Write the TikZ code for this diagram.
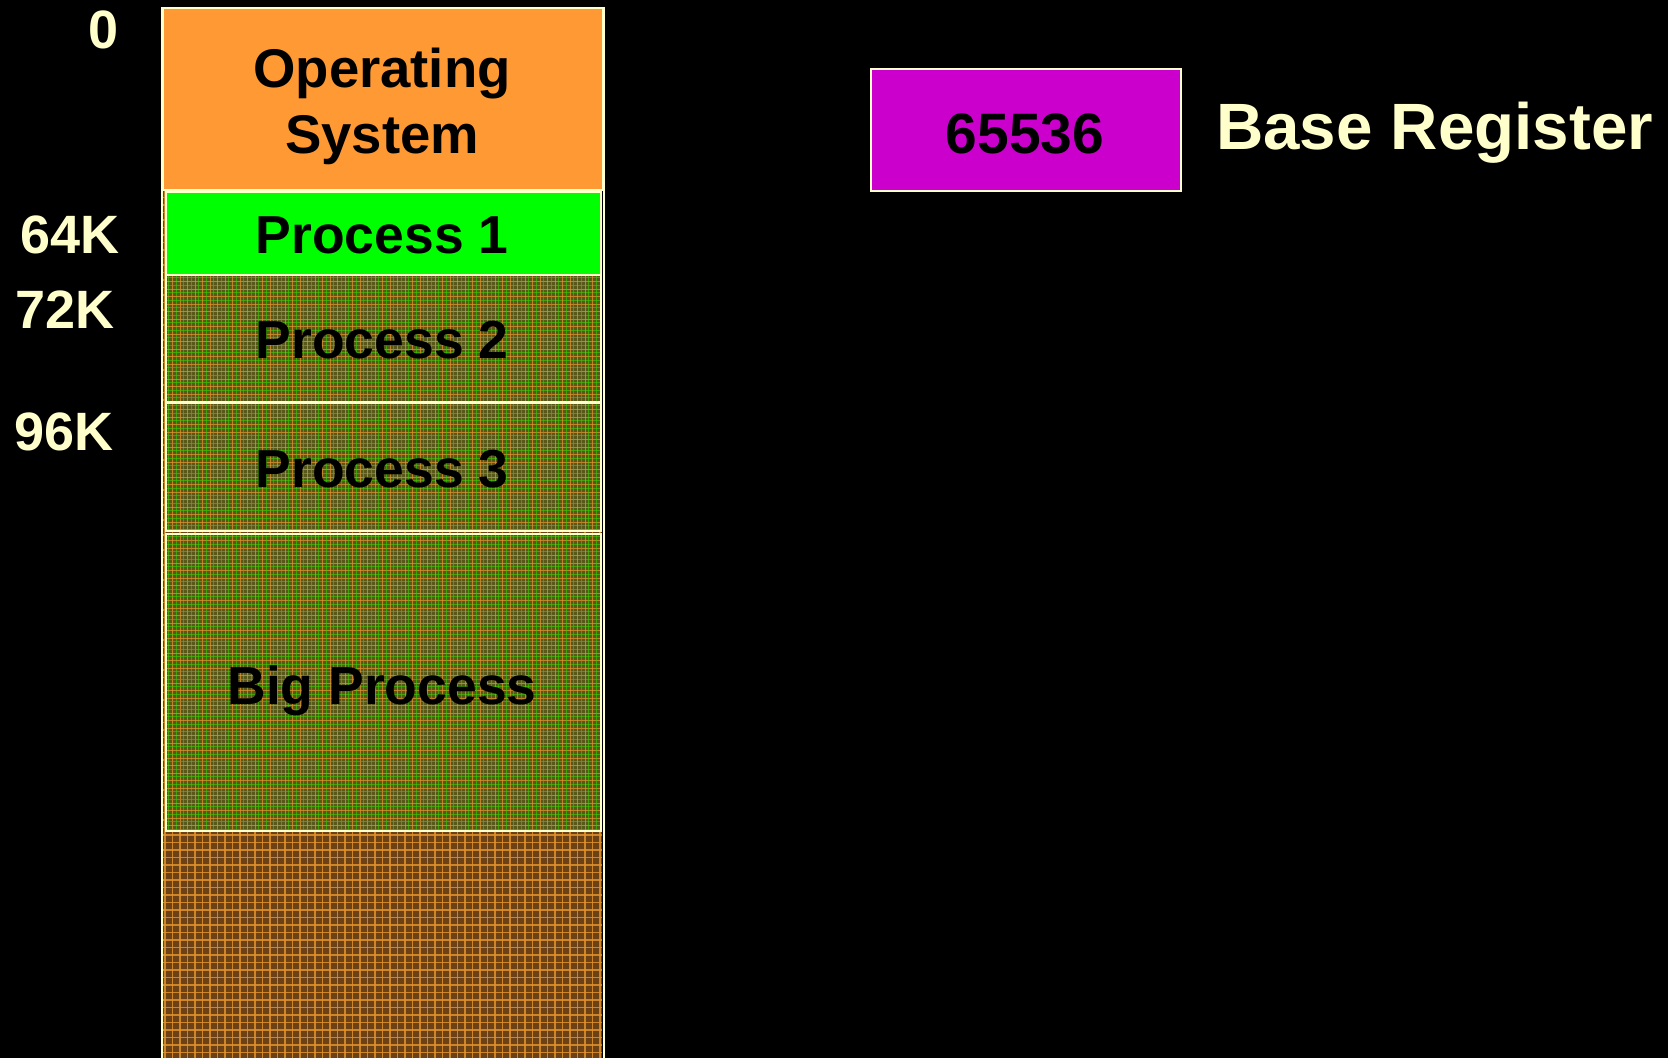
\documentclass[tikz,border=0pt]{standalone}
\usepackage{fontspec}
\setmainfont{Liberation Sans}
\definecolor{memline}{HTML}{FFFFCC}
\definecolor{osorange}{HTML}{FF9933}
\definecolor{procgreen}{HTML}{00FF00}
\definecolor{regpurple}{HTML}{CC00CC}
\definecolor{olivebase}{HTML}{585818}
\definecolor{brownbase}{HTML}{6C4116}
\definecolor{plaidorange}{HTML}{E0922C}
\definecolor{plaidgreen}{HTML}{38C800}
% woven fill of an occupied region: x1 y1 x2 y2
\newcommand{\greenweave}[4]{%
  \begin{scope}
    \clip (#1,#2) rectangle (#3,#4);
    \fill[olivebase] (#1,#2) rectangle (#3,#4);
    \foreach \i in {0,...,60}{
      \draw[plaidorange, line width=1pt, opacity=0.75] (#1+\i*7.5,#2) -- (#1+\i*7.5,#4);
      \draw[plaidgreen, line width=1pt, opacity=0.65] (#1+\i*7.5+3.75,#2) -- (#1+\i*7.5+3.75,#4);
      \draw[plaidorange, line width=1pt, opacity=0.75] (#1,#2+\i*7.5) -- (#3,#2+\i*7.5);
      \draw[plaidgreen, line width=1pt, opacity=0.65] (#1,#2+\i*7.5+3.75) -- (#3,#2+\i*7.5+3.75);
    }
  \end{scope}}
% woven fill of free memory: x1 y1 x2 y2
\newcommand{\brownweave}[4]{%
  \begin{scope}
    \clip (#1,#2) rectangle (#3,#4);
    \fill[brownbase] (#1,#2) rectangle (#3,#4);
    \foreach \i in {0,...,145}{
      \draw[plaidorange, line width=1.1pt, opacity=0.85] (#1+\i*7.5+3,#2) -- (#1+\i*7.5+3,#4);
      \draw[plaidorange, line width=1.1pt, opacity=0.85] (#1,#2+\i*7.5+3) -- (#3,#2+\i*7.5+3);
    }
  \end{scope}}
\tikzset{
  membox/.style={rectangle, anchor=north west, inner sep=0pt, draw=memline, line width=1.8pt},
  boxtext/.style={anchor=base, inner sep=0pt, text=black,
    font=\bfseries\fontsize{53.5}{60}\selectfont},
  addr/.style={anchor=base east, inner sep=0pt, text=memline,
    font=\bfseries\fontsize{54}{60}\selectfont},
}
\begin{document}
\begin{tikzpicture}[x=1pt, y=-1pt]
  % page and background
  \fill[black] (0,0) rectangle (1668,1058);
  \useasboundingbox (0,0) rectangle (1668,1058);

  % the memory column, free space at the bottom
  \brownweave{162}{7}{602}{1058}
  \node[membox, draw=none, minimum width=440pt, minimum height=1051pt] (mem) at (162,7) {};
  \draw[memline, line width=1.8pt] (mem.north west) -- (mem.south west);
  \draw[memline, line width=1.8pt] (mem.north east) -- (mem.south east);

  % memory regions
  \greenweave{165}{274}{600}{401}
  \greenweave{165}{402}{600}{530}
  \greenweave{165}{533}{600}{830}
  \node[membox, fill=osorange, minimum width=440pt, minimum height=182pt] (os) at (162,7) {};
  \node[membox, fill=procgreen, minimum width=435pt, minimum height=83pt] (p1) at (165,191) {};
  \node[membox, minimum width=435pt, minimum height=127pt] (p2) at (165,274) {};
  \node[membox, minimum width=435pt, minimum height=128pt] (p3) at (165,402) {};
  \node[membox, minimum width=435pt, minimum height=297pt] (big) at (165,533) {};

  % region labels
  \node[boxtext, font=\bfseries\fontsize{54.5}{60}\selectfont] (ostext1) at (382,87) {Operating};
  \node[boxtext, font=\bfseries\fontsize{54.5}{60}\selectfont] (ostext2) at (382,153) {System};
  \node[boxtext] (p1text) at (382,253) {Process 1};
  \node[boxtext] (p2text) at (382,358) {Process 2};
  \node[boxtext] (p3text) at (382,487) {Process 3};
  \node[boxtext] (bigtext) at (382,704) {Big Process};

  % addresses
  \node[addr] (a0) at (119,48) {0};
  \node[addr] (a64) at (120,253) {64K};
  \node[addr] (a72) at (115,328) {72K};
  \node[addr] (a96) at (114,450) {96K};

  % base register
  \node[membox, fill=regpurple, minimum width=310pt, minimum height=122pt] (reg) at (870,68) {};
  \node[anchor=base, inner sep=0pt, text=black,
    font=\bfseries\fontsize{57}{60}\selectfont] (regval) at (1025,153) {65536};
  \node[anchor=base west, inner sep=0pt, text=memline,
    font=\bfseries\fontsize{65.5}{70}\selectfont] (reglabel) at (1216,149) {Base Register};
\end{tikzpicture}
\end{document}
